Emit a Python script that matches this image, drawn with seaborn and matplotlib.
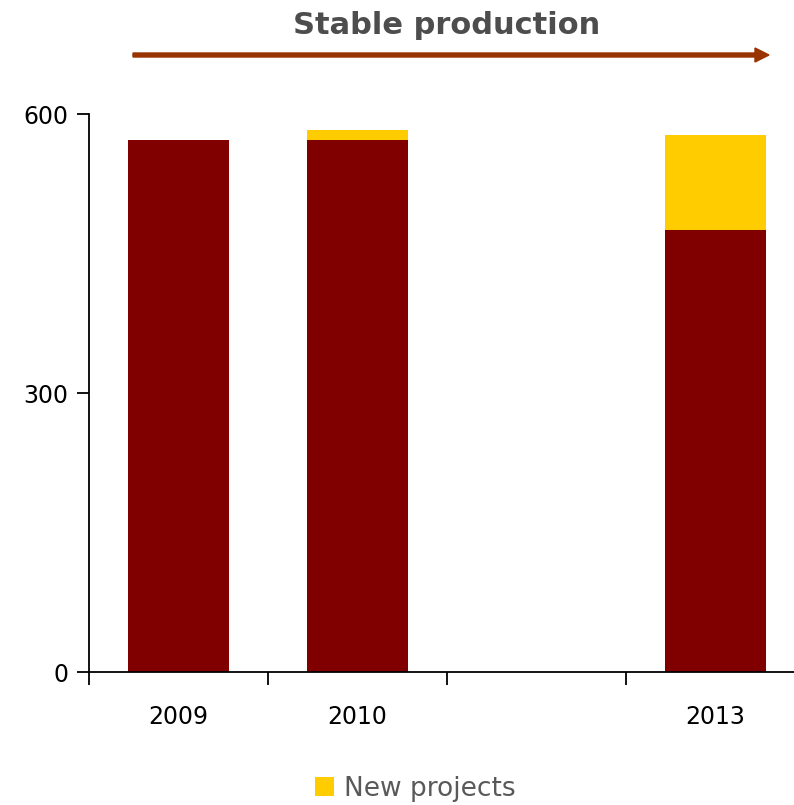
import matplotlib
matplotlib.use("Agg")
import matplotlib.pyplot as plt
import seaborn as sns
import pandas as pd
from matplotlib.patches import Patch

# Data
categories = ["2009", "2010", " ", "2013"]
years = ["2009", "2010", "2013"]
base_production = [572, 572, 475]
new_projects = [0, 11, 102]
title_text = "Stable production"
legend_label = "New projects"
y_ticks = [0, 300, 600]

MAROON = "#800000"
YELLOW = "#FFCC00"
ARROW = "#993300"

sns.set_style("white")
plt.rcParams['font.family'] = ['DejaVu Sans']

df = pd.DataFrame({
    "year": years,
    "base": base_production,
    "new": new_projects,
})
df["total"] = df["base"] + df["new"]

fig = plt.figure(figsize=(7.94, 8.05), dpi=100)
ax = fig.add_axes([89/794, (805-672)/805, (805-89)/794, (672-114)/805])

sns.barplot(data=df, x="year", y="total", order=categories, color=YELLOW,
            width=0.56, saturation=1, ax=ax, linewidth=0)
sns.barplot(data=df, x="year", y="base", order=categories, color=MAROON,
            width=0.56, saturation=1, ax=ax, linewidth=0)

ax.set_xlim(-0.5, 3.5)
ax.set_ylim(0, 600)
ax.set_xlabel("")
ax.set_ylabel("")

for s in ["top", "right"]:
    ax.spines[s].set_visible(False)
for s in ["left", "bottom"]:
    ax.spines[s].set_color("black")
    ax.spines[s].set_linewidth(1.3)

ax.set_xticks([0, 1, 3])
ax.set_xticklabels(years, fontsize=17, color="black")
ax.tick_params(axis="x", which="major", bottom=True, length=0, pad=24)
ax.set_xticks([-0.5, 0.5, 1.5, 2.5, 3.5], minor=True)
ax.tick_params(axis="x", which="minor", bottom=True, length=9, width=1.3,
               direction="out", color="black")

ax.set_yticks(y_ticks)
ax.set_yticklabels([str(v) for v in y_ticks], fontsize=17, color="black")
ax.tick_params(axis="y", which="major", left=True, length=9, width=1.3,
               direction="out", color="black", pad=6)

# Title and arrow
fig.text(447/794, 1 - 25/805, title_text, ha="center", va="center",
         fontsize=22, fontweight="bold", color="#4D4D4D")
fig.patches.append(matplotlib.patches.FancyArrow(
    133/794, 1 - 55/805, (755-133)/794, 0, width=4/805, head_width=14/805,
    head_length=14/794, length_includes_head=False, color=ARROW,
    transform=fig.transFigure, figure=fig))

fig.legend(handles=[Patch(facecolor=YELLOW, edgecolor="none")], labels=[legend_label],
           loc="center", bbox_to_anchor=(415/794, 1 - 789/805), frameon=False,
           fontsize=19, labelcolor="#595959", handlelength=0.75, handleheight=0.75,
           handletextpad=0.35)

fig.savefig("out.png", dpi=100)
